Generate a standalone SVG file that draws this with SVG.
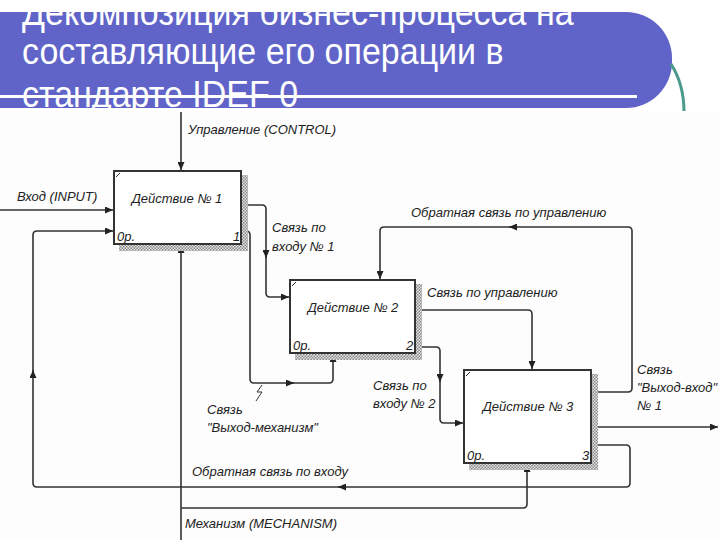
<svg xmlns="http://www.w3.org/2000/svg" width="720" height="540" viewBox="0 0 720 540">
<style>
.title{font-family:"Liberation Sans",Arial,sans-serif;font-size:34px;fill:#ffffff}
.lbl{font-family:"Liberation Sans",Arial,sans-serif;font-style:italic;font-size:13px;fill:#222}
.box{fill:#ffffff;stroke:#333;stroke-width:2}
.sh{fill:url(#hatch)}
.con{fill:none;stroke:#333;stroke-width:1.6;stroke-linejoin:round}
.mk{fill:none;stroke:#333;stroke-width:1}
</style>
<defs>
<pattern id="hatch" width="3" height="3" patternUnits="userSpaceOnUse">
<rect width="3" height="3" fill="#e4e4e4"/>
<rect width="1.5" height="1.5" fill="#8a8a8a"/>
<rect x="1.5" y="1.5" width="1.5" height="1.5" fill="#8a8a8a"/>
</pattern>
<marker id="ah" viewBox="0 0 8 7" refX="8" refY="3.5" markerWidth="8" markerHeight="7" markerUnits="userSpaceOnUse" orient="auto">
<path d="M0,0 L8,3.5 L0,7 z" fill="#222"/>
</marker>
</defs>
<rect width="720" height="540" fill="#ffffff"/>
<g id="header">
<rect x="-60" y="12" width="732" height="96" rx="46" ry="46" fill="#6064c8"/>
<g transform="scale(1,1.1)">
<text class="title" x="22" y="22.7">Декомпозиция бизнес-процесса на</text>
<text class="title" x="22" y="58.2">составляющие его операции в</text>
<text class="title" x="22" y="97.3">стандарте IDEF 0</text>
</g>
<line x1="0" y1="96.5" x2="637" y2="96.5" stroke="#ffffff" stroke-width="3"/>
<path d="M671,64 C680,78 684,92 684,112" fill="none" stroke="#4a9a8c" stroke-width="3"/>
</g>
<rect x="0" y="111" width="720" height="429" fill="#fdfdfd"/>
<g id="connectors">
<path class="con" d="M181,112 V170" marker-end="url(#ah)"/>
<path class="con" d="M0,210 H113" marker-end="url(#ah)"/>
<path class="con" d="M593,445 H626 Q630,445 630,449 V483 Q630,487 626,487 H37 Q33,487 33,483 V235 Q33,231 37,231 H113" marker-end="url(#ah)"/>
<path class="con" d="M346,487 H338" marker-end="url(#ah)"/>
<path class="con" d="M33,378 V370" marker-end="url(#ah)"/>
<path class="con" d="M181,540 V245" marker-end="url(#ah)"/>
<path class="con" d="M181,508 H523 Q527,508 527,504 V464" marker-end="url(#ah)"/>
<path class="con" d="M242,205 H262 Q266,205 266,209 V293 Q266,297 270,297 H289" marker-end="url(#ah)"/>
<path class="con" d="M266,250 V258" marker-end="url(#ah)"/>
<path class="con" d="M242,231 H246 Q250,231 250,235 V379 Q250,383 254,383 H329 Q333,383 333,379 V354" marker-end="url(#ah)"/>
<path class="con" d="M286,383 H294" marker-end="url(#ah)"/>
<path class="con" d="M592,392 H628 Q632,392 632,388 V231 Q632,227 628,227 H384 Q380,227 380,231 V279" marker-end="url(#ah)"/>
<path class="con" d="M517,227 H509" marker-end="url(#ah)"/>
<path class="con" d="M416,310 H528 Q532,310 532,314 V369" marker-end="url(#ah)"/>
<path class="con" d="M416,347 H436 Q440,347 440,351 V419 Q440,423 444,423 H463" marker-end="url(#ah)"/>
<path class="con" d="M440,374 V382" marker-end="url(#ah)"/>
<path class="con" d="M592,427 H718" marker-end="url(#ah)"/>
<path class="mk" d="M262,385 L257,392 L262,392 L256,401"/>
</g>
<g id="box1">
<rect class="sh" x="241" y="175" width="7" height="76"/>
<rect class="sh" x="119" y="244" width="129" height="7"/>
<rect class="box" x="114" y="171" width="127" height="73"/>
<path class="mk" d="M116,177 L120,173"/>
<text class="lbl" x="177" y="203" text-anchor="middle">Действие № 1</text>
<text class="lbl" x="117" y="241">0р.</text>
<text class="lbl" x="233" y="241">1</text>
</g>
<g id="box2">
<rect class="sh" x="415" y="284" width="7" height="76"/>
<rect class="sh" x="295" y="353" width="127" height="7"/>
<rect class="box" x="290" y="280" width="125" height="73"/>
<path class="mk" d="M292,286 L296,282"/>
<text class="lbl" x="353" y="312" text-anchor="middle">Действие № 2</text>
<text class="lbl" x="293" y="350">0р.</text>
<text class="lbl" x="406" y="350">2</text>
</g>
<g id="box3">
<rect class="sh" x="591" y="374" width="7" height="96"/>
<rect class="sh" x="469" y="463" width="129" height="7"/>
<rect class="box" x="464" y="370" width="127" height="93"/>
<path class="mk" d="M466,376 L470,372"/>
<text class="lbl" x="528" y="411" text-anchor="middle">Действие № 3</text>
<text class="lbl" x="467" y="460">0р.</text>
<text class="lbl" x="582" y="460">3</text>
</g>
<g id="labels">
<text class="lbl" x="188" y="134">Управление (CONTROL)</text>
<text class="lbl" x="17" y="201">Вход (INPUT)</text>
<text class="lbl" x="272" y="232">Связь по</text>
<text class="lbl" x="272" y="251">входу № 1</text>
<text class="lbl" x="411" y="217">Обратная связь по управлению</text>
<text class="lbl" x="427" y="297">Связь по управлению</text>
<text class="lbl" x="637" y="374">Связь</text>
<text class="lbl" x="637" y="392">"Выход-вход"</text>
<text class="lbl" x="637" y="410">№ 1</text>
<text class="lbl" x="373" y="390">Связь по</text>
<text class="lbl" x="373" y="408">входу № 2</text>
<text class="lbl" x="207" y="414">Связь</text>
<text class="lbl" x="207" y="432">"Выход-механизм"</text>
<text class="lbl" x="192" y="476">Обратная связь по входу</text>
<text class="lbl" x="185" y="528">Механизм (MECHANISM)</text>
</g>
</svg>
